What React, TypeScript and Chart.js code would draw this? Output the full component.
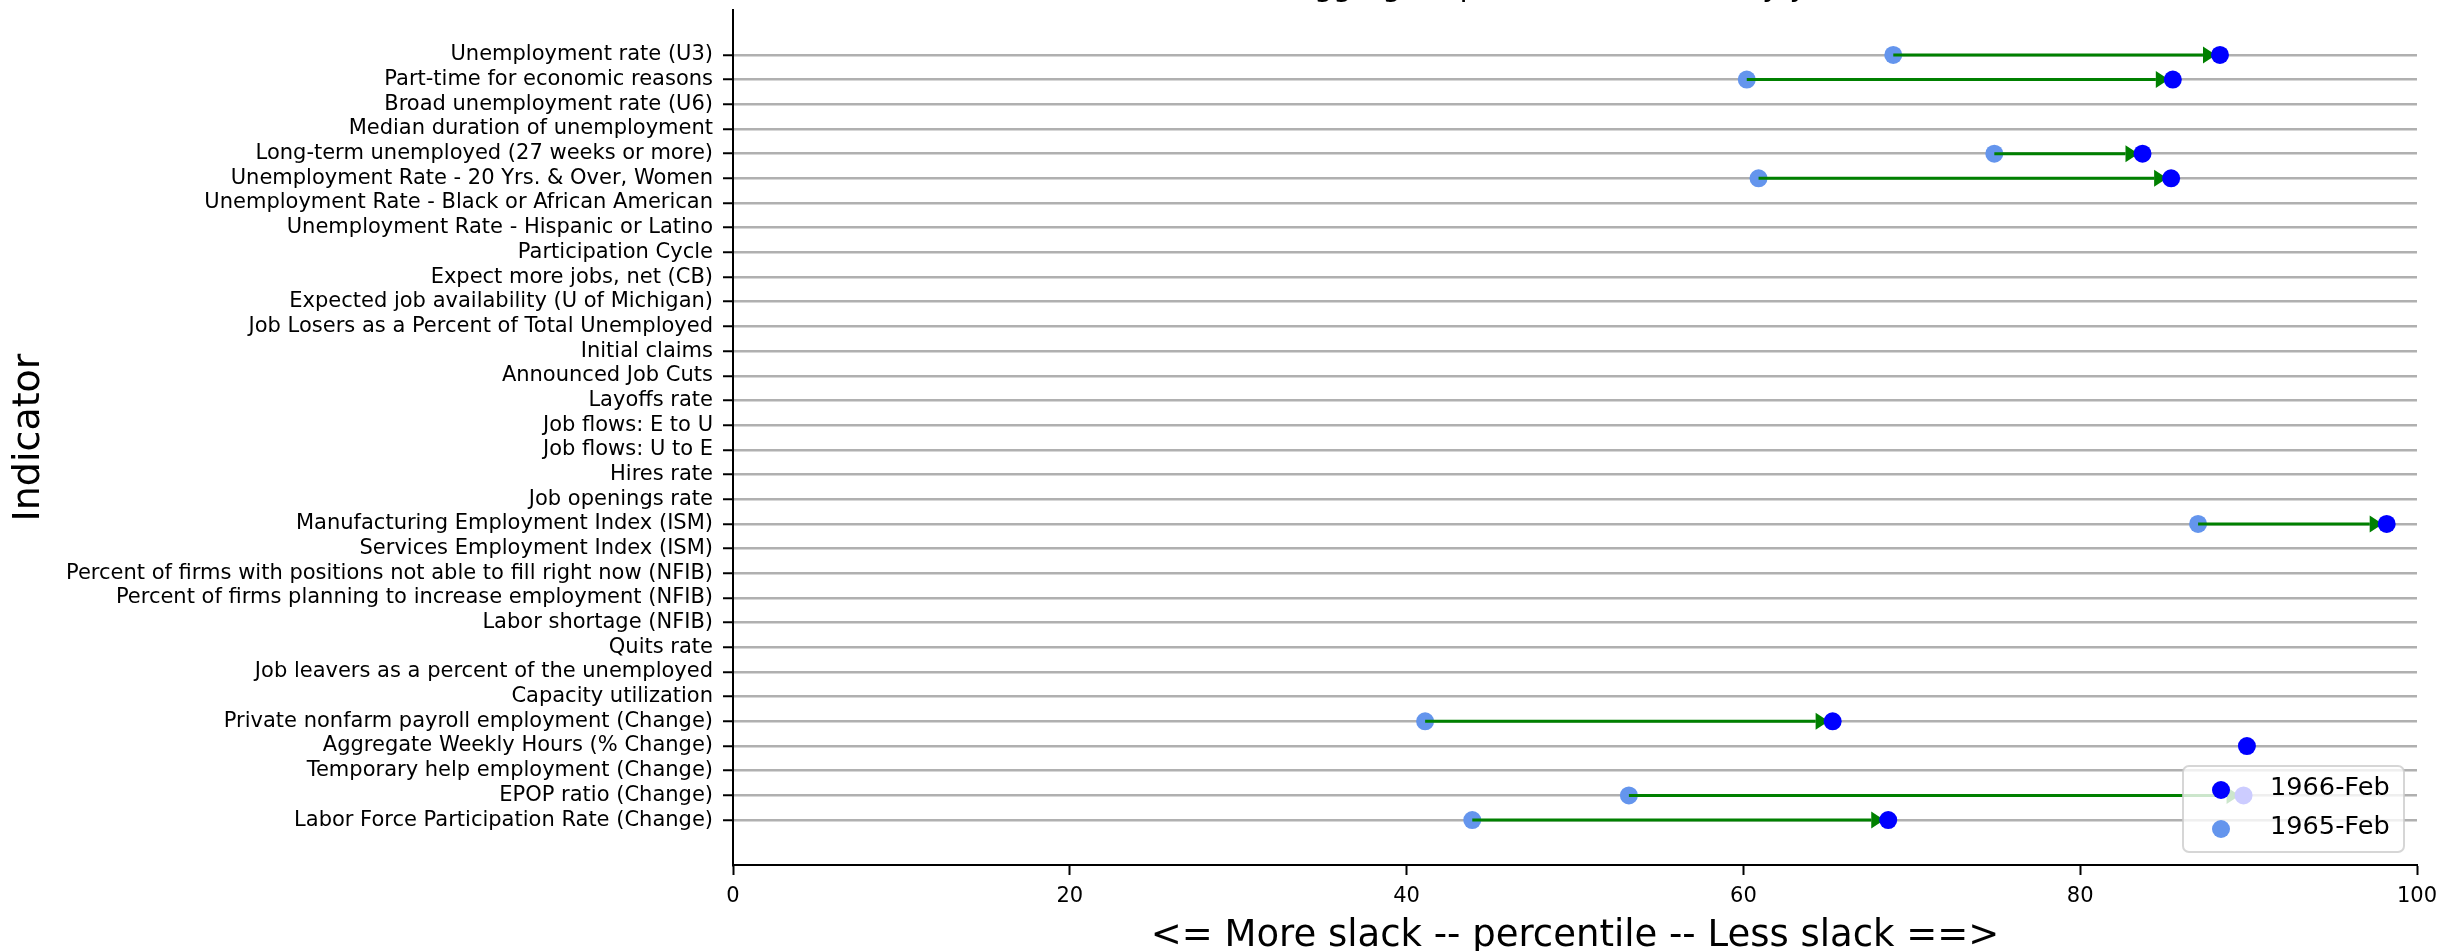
import React, { useEffect, useRef } from "react";
import { Chart, registerables } from "chart.js";

Chart.register(...registerables);

const indicators: string[] = [
  "Unemployment rate (U3)",
  "Part-time for economic reasons",
  "Broad unemployment rate (U6)",
  "Median duration of unemployment",
  "Long-term unemployed (27 weeks or more)",
  "Unemployment Rate - 20 Yrs. & Over, Women",
  "Unemployment Rate - Black or African American",
  "Unemployment Rate - Hispanic or Latino",
  "Participation Cycle",
  "Expect more jobs, net (CB)",
  "Expected job availability (U of Michigan)",
  "Job Losers as a Percent of Total Unemployed",
  "Initial claims",
  "Announced Job Cuts",
  "Layoffs rate",
  "Job flows: E to U",
  "Job flows: U to E",
  "Hires rate",
  "Job openings rate",
  "Manufacturing Employment Index (ISM)",
  "Services Employment Index (ISM)",
  "Percent of firms with positions not able to fill right now (NFIB)",
  "Percent of firms planning to increase employment (NFIB)",
  "Labor shortage (NFIB)",
  "Quits rate",
  "Job leavers as a percent of the unemployed",
  "Capacity utilization",
  "Private nonfarm payroll employment (Change)",
  "Aggregate Weekly Hours (% Change)",
  "Temporary help employment (Change)",
  "EPOP ratio (Change)",
  "Labor Force Participation Rate (Change)",
];

// percentile values for the latest date (1966-Feb)
const current: (number | null)[] = [
  88.3, 85.5, null, null, 83.7, 85.4, null, null, null, null, null, null, null, null, null, null,
  null, null, null, 98.2, null, null, null, null, null, null, null, 65.3, 89.9, null, 89.7, 68.6,
];

// percentile values one year earlier (1965-Feb)
const previous: (number | null)[] = [
  68.9, 60.2, null, null, 74.9, 60.9, null, null, null, null, null, null, null, null, null, null,
  null, null, null, 87.0, null, null, null, null, null, null, null, 41.1, null, null, 53.2, 43.9,
];

const seriesLabels = ["1966-Feb", "1965-Feb"];
const seriesColors = ["#0000ff", "#6495ed"];
const xTicks = [0, 20, 40, 60, 80, 100];
const titleText = "Aggregate percentile of slack by year";
const xTitle = "<= More slack -- percentile -- Less slack ==>";
const yTitle = "Indicator";

const FONT = "'DejaVu Sans', sans-serif";

const toPoints = (vals: (number | null)[]) =>
  vals
    .map((v, i) => (v === null ? null : { x: v, y: i }))
    .filter((p) => p !== null) as { x: number; y: number }[];

const arrowPlugin = {
  id: "slackArrows",
  afterDatasetDraw(chart: any, args: any) {
    if (args.index !== 1) return;
    const { ctx } = chart;
    const xs = chart.scales.x;
    const ys = chart.scales.y;
    ctx.save();
    ctx.strokeStyle = "#008000";
    ctx.fillStyle = "#008000";
    ctx.lineWidth = 3;
    for (let i = 0; i < indicators.length; i++) {
      const a = previous[i];
      const b = current[i];
      if (a === null || b === null) continue;
      const x0 = xs.getPixelForValue(a);
      const x1 = xs.getPixelForValue(b);
      const yy = ys.getPixelForValue(i);
      const dir = x1 >= x0 ? 1 : -1;
      const tip = x1 - dir * 4;
      const base = tip - dir * 13;
      ctx.beginPath();
      ctx.moveTo(x0, yy);
      ctx.lineTo(base, yy);
      ctx.stroke();
      ctx.beginPath();
      ctx.moveTo(base, yy - 8.5);
      ctx.lineTo(tip, yy);
      ctx.lineTo(base, yy + 8.5);
      ctx.closePath();
      ctx.fill();
    }
    ctx.restore();
  },
};

const overlayPlugin = {
  id: "overlay",
  afterDraw(chart: any) {
    const { ctx, chartArea } = chart;
    ctx.save();
    // title (cut off at the top, as in the reference)
    ctx.font = `30px ${FONT}`;
    ctx.fillStyle = "#000";
    ctx.textAlign = "center";
    ctx.textBaseline = "alphabetic";
    ctx.fillText(titleText, (chartArea.left + chartArea.right) / 2, -4);

    // legend box (lower right inside axes)
    const w = 221;
    const h = 86;
    const right = chartArea.right - 13;
    const bottom = chartArea.bottom - 13;
    const left = right - w;
    const top = bottom - h;
    ctx.beginPath();
    ctx.roundRect(left, top, w, h, 6);
    ctx.fillStyle = "rgba(255,255,255,0.8)";
    ctx.fill();
    ctx.lineWidth = 2;
    ctx.strokeStyle = "rgba(204,204,204,0.8)";
    ctx.stroke();
    ctx.font = `25.6px ${FONT}`;
    ctx.textAlign = "left";
    ctx.textBaseline = "middle";
    seriesLabels.forEach((lab, k) => {
      const cy = top + 24 + k * 39;
      ctx.beginPath();
      ctx.arc(left + 38, cy, 9, 0, Math.PI * 2);
      ctx.fillStyle = seriesColors[k];
      ctx.fill();
      ctx.fillStyle = "#000";
      ctx.fillText(lab, left + 87, cy - 2);
    });
    ctx.restore();
  },
};

export default function App() {
  const ref = useRef<HTMLCanvasElement>(null);
  useEffect(() => {
    document.body.style.margin = "0";
    const chart = new Chart(ref.current as HTMLCanvasElement, {
      type: "scatter",
      data: {
        datasets: [
          {
            label: seriesLabels[0],
            data: toPoints(current),
            backgroundColor: seriesColors[0],
            borderWidth: 0,
            pointRadius: 9,
            pointHoverRadius: 9,
          },
          {
            label: seriesLabels[1],
            data: toPoints(previous),
            backgroundColor: seriesColors[1],
            borderWidth: 0,
            pointRadius: 9,
            pointHoverRadius: 9,
          },
        ],
      },
      options: {
        animation: false,
        responsive: false,
        devicePixelRatio: 1,
        layout: { padding: { top: 10, right: 26, left: 0, bottom: 0 } },
        plugins: {
          legend: { display: false },
          tooltip: { enabled: false },
          title: { display: false },
        },
        scales: {
          x: {
            type: "linear",
            min: 0,
            max: 100,
            afterBuildTicks: (scale: any) => {
              scale.ticks = xTicks.map((v) => ({ value: v }));
            },
            afterFit: (scale: any) => {
              scale.height = 86;
              scale.paddingLeft = 0;
              scale.paddingRight = 0;
              scale.paddingTop = 0;
              scale.paddingBottom = 0;
            },
            ticks: {
              color: "#000",
              font: { family: FONT, size: 21 },
              padding: 9,
              maxRotation: 0,
              autoSkip: false,
            },
            grid: {
              drawOnChartArea: false,
              drawTicks: true,
              tickLength: 10,
              tickColor: "#000",
              tickWidth: 2,
            },
            border: { color: "#000", width: 2 },
            title: {
              display: true,
              text: xTitle,
              color: "#000",
              font: { family: FONT, size: 37 },
              padding: { top: 0, bottom: -8 },
            },
          },
          y: {
            type: "linear",
            reverse: true,
            min: -1.82,
            max: 32.82,
            afterBuildTicks: (scale: any) => {
              scale.ticks = indicators.map((_, i) => ({ value: i }));
            },
            afterFit: (scale: any) => {
              scale.width = 733;
              scale.paddingLeft = 0;
              scale.paddingRight = 0;
              scale.paddingTop = 0;
              scale.paddingBottom = 0;
            },
            ticks: {
              color: "#000",
              font: { family: FONT, size: 21 },
              padding: 10,
              autoSkip: false,
              callback: (v: any) => indicators[v as number] ?? "",
            },
            grid: {
              color: "#b0b0b0",
              lineWidth: 2.5,
              drawTicks: true,
              tickLength: 10,
              tickColor: "#000",
              tickWidth: 2,
            },
            border: { color: "#000", width: 2 },
            title: {
              display: true,
              text: yTitle,
              color: "#000",
              font: { family: FONT, size: 38 },
              padding: { top: 6, bottom: 0 },
            },
          },
        },
      },
      plugins: [arrowPlugin, overlayPlugin],
    } as any);
    return () => chart.destroy();
  }, []);
  return (
    <div style={{ width: 2443, height: 951, position: "relative", background: "#fff" }}>
      <canvas ref={ref} width={2443} height={951} style={{ display: "block" }} />
    </div>
  );
}
